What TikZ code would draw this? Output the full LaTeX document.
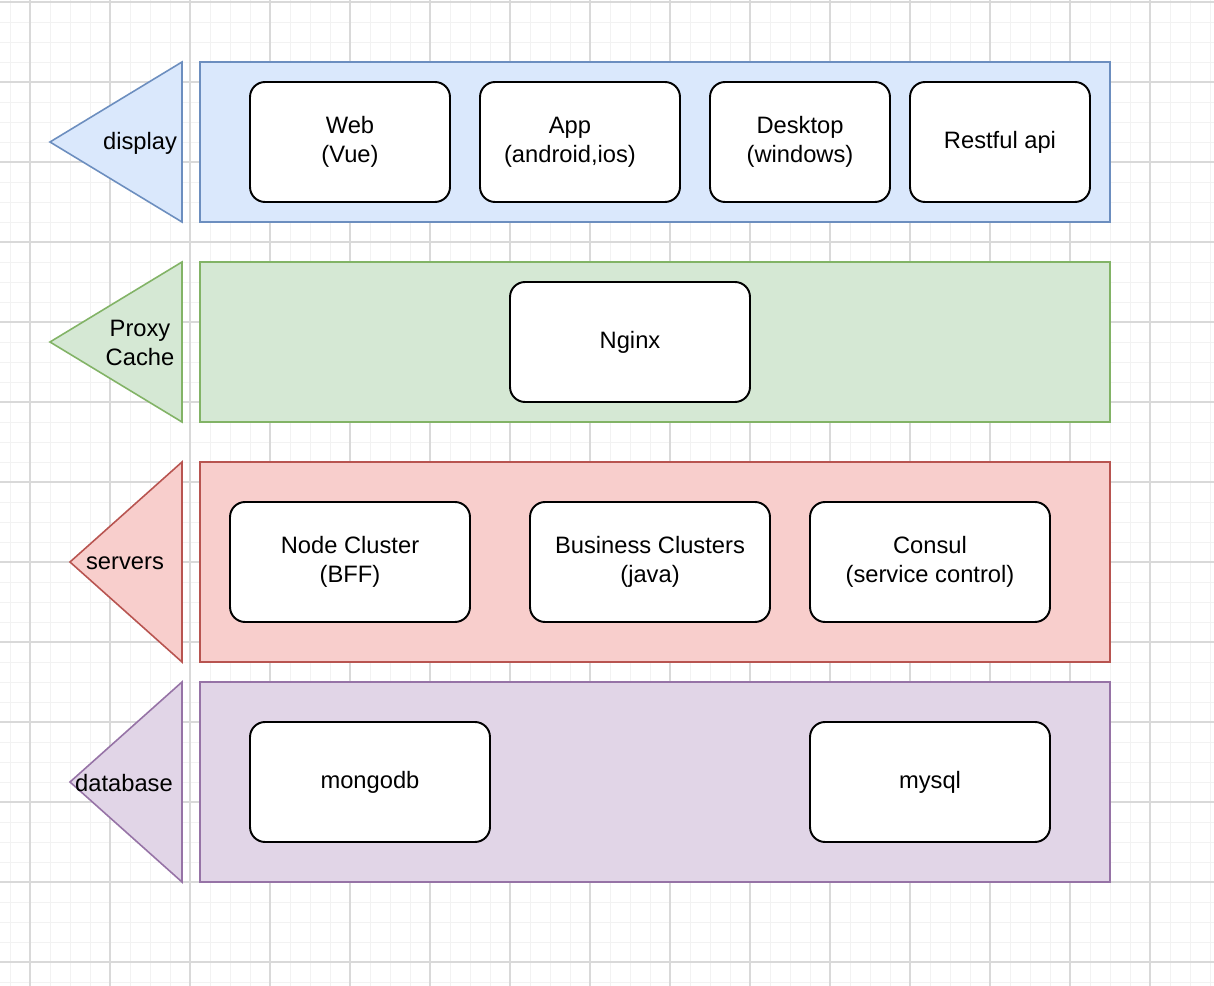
\documentclass[tikz,border=0pt]{standalone}
\usepackage{fontspec}
\setmainfont{Liberation Sans}
\usetikzlibrary{shapes}
\usepackage{xcolor}

\definecolor{bluefill}{HTML}{DAE8FC}
\definecolor{bluedraw}{HTML}{6C8EBF}
\definecolor{greenfill}{HTML}{D5E8D4}
\definecolor{greendraw}{HTML}{82B366}
\definecolor{redfill}{HTML}{F8CECC}
\definecolor{reddraw}{HTML}{B85450}
\definecolor{purplefill}{HTML}{E1D5E7}
\definecolor{purpledraw}{HTML}{9673A6}

\tikzset{
    gridminor/.style={draw=black!5, line width=0.5pt},
    gridmajor/.style={draw=black!15, line width=0.6pt},
    layer/.style={rectangle, line width=0.9pt, minimum width=18.2cm, inner sep=0pt},
    tri/.style={line width=0.9pt, line join=miter},
    lbl/.style={font=\fontsize{13.5}{16.5}\selectfont, align=center, inner sep=0pt},
    item/.style={rectangle, rounded corners=0.3cm, draw=black, fill=white,
        line width=1.1pt, minimum height=2.4cm, align=center,
        font=\fontsize{13.5}{16.5}\selectfont}
}

\begin{document}
\begin{tikzpicture}[x=0.02cm, y=-0.02cm]
                \useasboundingbox (0,0) rectangle (1214,986);
                \fill[white] (0,0) rectangle (1214,986);
                % grid
                \foreach \gx in {10,30,...,1210}
                    \draw[gridminor] (\gx,0) -- (\gx,986);
                \foreach \gy in {2,22,...,982}
                    \draw[gridminor] (0,\gy) -- (1214,\gy);
                \foreach \gx in {30,110,...,1190}
                    \draw[gridmajor] (\gx,0) -- (\gx,986);
                \foreach \gy in {2,82,...,962}
                    \draw[gridmajor] (0,\gy) -- (1214,\gy);

                % layers
                \node[layer, fill=bluefill, draw=bluedraw, minimum height=3.2cm] (display) at (655,142) {};
                \node[layer, fill=greenfill, draw=greendraw, minimum height=3.2cm] (proxy) at (655,342) {};
                \node[layer, fill=redfill, draw=reddraw, minimum height=4cm] (servers) at (655,562) {};
                \node[layer, fill=purplefill, draw=purpledraw, minimum height=4cm] (database) at (655,782) {};

                % side arrows
                \draw[tri, fill=bluefill, draw=bluedraw] (182,62) -- (50,142) -- (182,222) -- cycle;
                \node[lbl] (displaylbl) at (140,143) {display};
                \draw[tri, fill=greenfill, draw=greendraw] (182,262) -- (50,342) -- (182,422) -- cycle;
                \node[lbl] (proxylbl) at (140,343) {Proxy\\Cache};
                \draw[tri, fill=redfill, draw=reddraw] (182,462) -- (70,562) -- (182,662) -- cycle;
                \node[lbl] (serverslbl) at (125,563) {servers};
                \draw[tri, fill=purplefill, draw=purpledraw] (182,682) -- (70,782) -- (182,882) -- cycle;
                \node[lbl] (databaselbl) at (124,783) {database};

                % display
                \node[item, minimum width=4cm] (web) at (350,142) {Web\\(Vue)};
                \node[item, minimum width=4cm] (app) at (580,142) {};
                \node[lbl] (applbl) at (570,142) {App\\(android,ios)};
                \node[item, minimum width=3.6cm] (desktop) at (800,142) {Desktop\\(windows)};
                \node[item, minimum width=3.6cm] (restful) at (1000,142) {Restful api};

                % proxy
                \node[item, minimum width=4.8cm] (nginx) at (630,342) {Nginx};

                % servers
                \node[item, minimum width=4.8cm] (bff) at (350,562) {Node Cluster\\(BFF)};
                \node[item, minimum width=4.8cm] (java) at (650,562) {Business Clusters\\(java)};
                \node[item, minimum width=4.8cm] (consul) at (930,562) {Consul\\(service control)};

                % database
                \node[item, minimum width=4.8cm] (mongodb) at (370,782) {mongodb};
                \node[item, minimum width=4.8cm] (mysql) at (930,782) {mysql};
            \end{tikzpicture}
\end{document}
